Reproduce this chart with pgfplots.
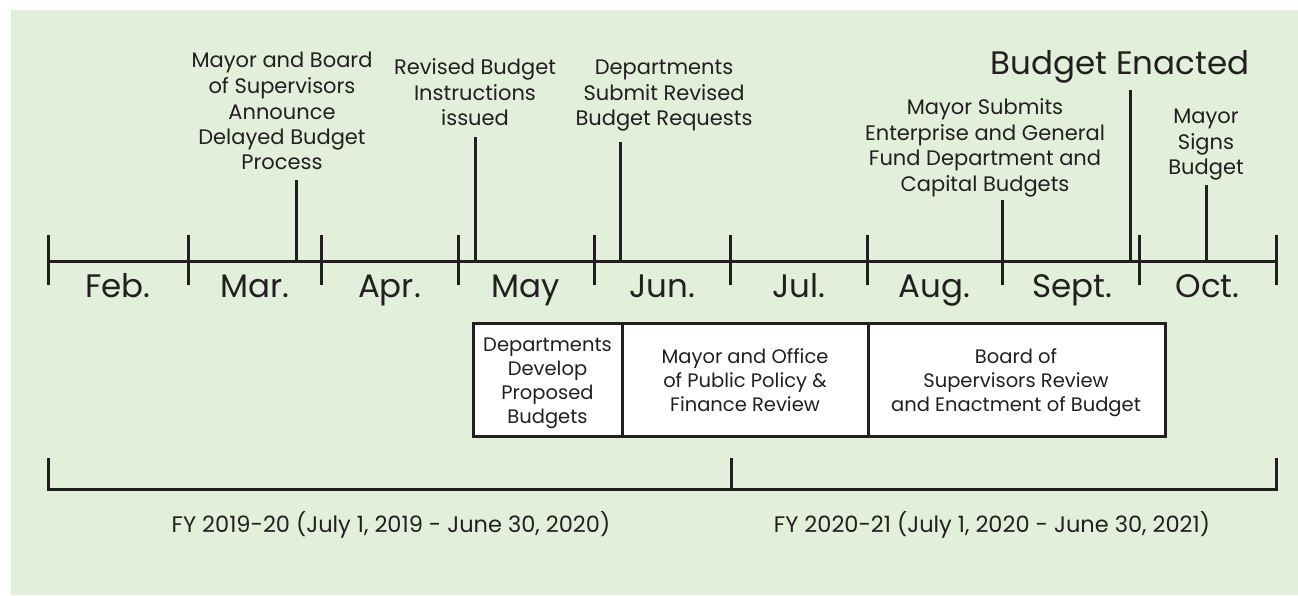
\documentclass[border=0pt]{standalone}
\usepackage{pgfplots}
\pgfplotsset{compat=1.18}
\usepackage{fontspec}
\setmainfont{Poppins}
\definecolor{bg}{RGB}{226,239,218}
\definecolor{ink}{RGB}{35,31,32}

% one line of text, anchored on its baseline (axis units = pixels)
\newcommand{\tl}[4]{\node[anchor=base, inner sep=0pt, text=ink, font=\fontsize{#1}{#1}\selectfont] at (axis cs:#2,#3) {#4};}

\begin{document}
\begin{tikzpicture}
\begin{axis}[
  scale only axis, width=1298pt, height=595pt,
  xmin=0, xmax=1298, ymin=0, ymax=595, y dir=reverse,
  hide axis, clip=false,
]
% panel
\addplot[fill=white, draw=none] coordinates {(0,0) (1298,0) (1298,595) (0,595)} -- cycle;
\addplot[fill=bg, draw=none] coordinates {(11,10) (1298,10) (1298,595) (11,595)} -- cycle;

% timeline
\addplot[ink, line width=3pt] coordinates {(48,261) (1276,261)};
\addplot[ink, line width=3pt, unbounded coords=jump] coordinates {
  (48,235) (48,285) (nan,nan)
  (188,235) (188,285) (nan,nan)
  (321,235) (321,285) (nan,nan)
  (458,235) (458,285) (nan,nan)
  (594,235) (594,285) (nan,nan)
  (730,235) (730,285) (nan,nan)
  (867,235) (867,285) (nan,nan)
  (1002,235) (1002,285) (nan,nan)
  (1139,235) (1139,285) (nan,nan)
  (1276,235) (1276,285)
};
% event markers
\addplot[ink, line width=3pt, unbounded coords=jump] coordinates {
  (296,261) (296,180) (nan,nan)
  (475,261) (475,137) (nan,nan)
  (620,261) (620,142) (nan,nan)
  (1002,261) (1002,200) (nan,nan)
  (1130,261) (1130,90) (nan,nan)
  (1206,261) (1206,185)
};

% phase boxes
\addplot[ink, fill=white, line width=3pt] coordinates {(473,323) (1165,323) (1165,436) (473,436)} -- cycle;
\addplot[ink, line width=3pt, unbounded coords=jump] coordinates {
  (622,323) (622,436) (nan,nan)
  (868,323) (868,436)
};

% fiscal year bracket
\addplot[ink, line width=3pt] coordinates {(48,458) (48,489) (1276,489) (1276,458)};
\addplot[ink, line width=3pt] coordinates {(731,458) (731,489)};

% months
\tl{32.5}{118}{297}{Feb.}
\tl{32.5}{254.5}{297}{Mar.}
\tl{32.5}{389.5}{297}{Apr.}
\tl{32.5}{526}{297}{May}
\tl{32.5}{662}{297}{Jun.}
\tl{32.5}{798.5}{297}{Jul.}
\tl{32.5}{934.5}{297}{Aug.}
\tl{32.5}{1072}{297}{Sept.}
\tl{32.5}{1207.5}{297}{Oct.}

% events
\tl{21}{282}{67}{Mayor and Board}
\tl{21}{282}{93}{of Supervisors}
\tl{21}{282}{119}{Announce}
\tl{21}{282}{144}{Delayed Budget}
\tl{21}{282}{169}{Process}

\tl{21}{475}{74}{Revised Budget}
\tl{21}{475}{100}{Instructions}
\tl{21}{475}{125}{issued}

\tl{21}{664}{74}{Departments}
\tl{21}{664}{100}{Submit Revised}
\tl{21}{664}{125}{Budget Requests}

\tl{21}{985}{114}{Mayor Submits}
\tl{21}{985}{140}{Enterprise and General}
\tl{21}{985}{165}{Fund Department and}
\tl{21}{985}{191}{Capital Budgets}

\tl{32.5}{1120}{74}{Budget Enacted}

\tl{21}{1206}{123}{Mayor}
\tl{21}{1206}{149}{Signs}
\tl{21}{1206}{174}{Budget}

% box texts
\tl{19.5}{547.5}{351}{Departments}
\tl{19.5}{547.5}{375}{Develop}
\tl{19.5}{547.5}{399}{Proposed}
\tl{19.5}{547.5}{423}{Budgets}

\tl{19.5}{745}{363}{Mayor and Office}
\tl{19.5}{745}{387}{of Public Policy \&}
\tl{19.5}{745}{411}{Finance Review}

\tl{19.5}{1016}{363}{Board of}
\tl{19.5}{1016}{387}{Supervisors Review}
\tl{19.5}{1016}{411}{and Enactment of Budget}

% fiscal years
\tl{22.5}{391}{532}{FY 2019-20 (July 1, 2019 - June 30, 2020)}
\tl{22.5}{992}{532}{FY 2020-21 (July 1, 2020 - June 30, 2021)}
\end{axis}
\end{tikzpicture}
\end{document}
